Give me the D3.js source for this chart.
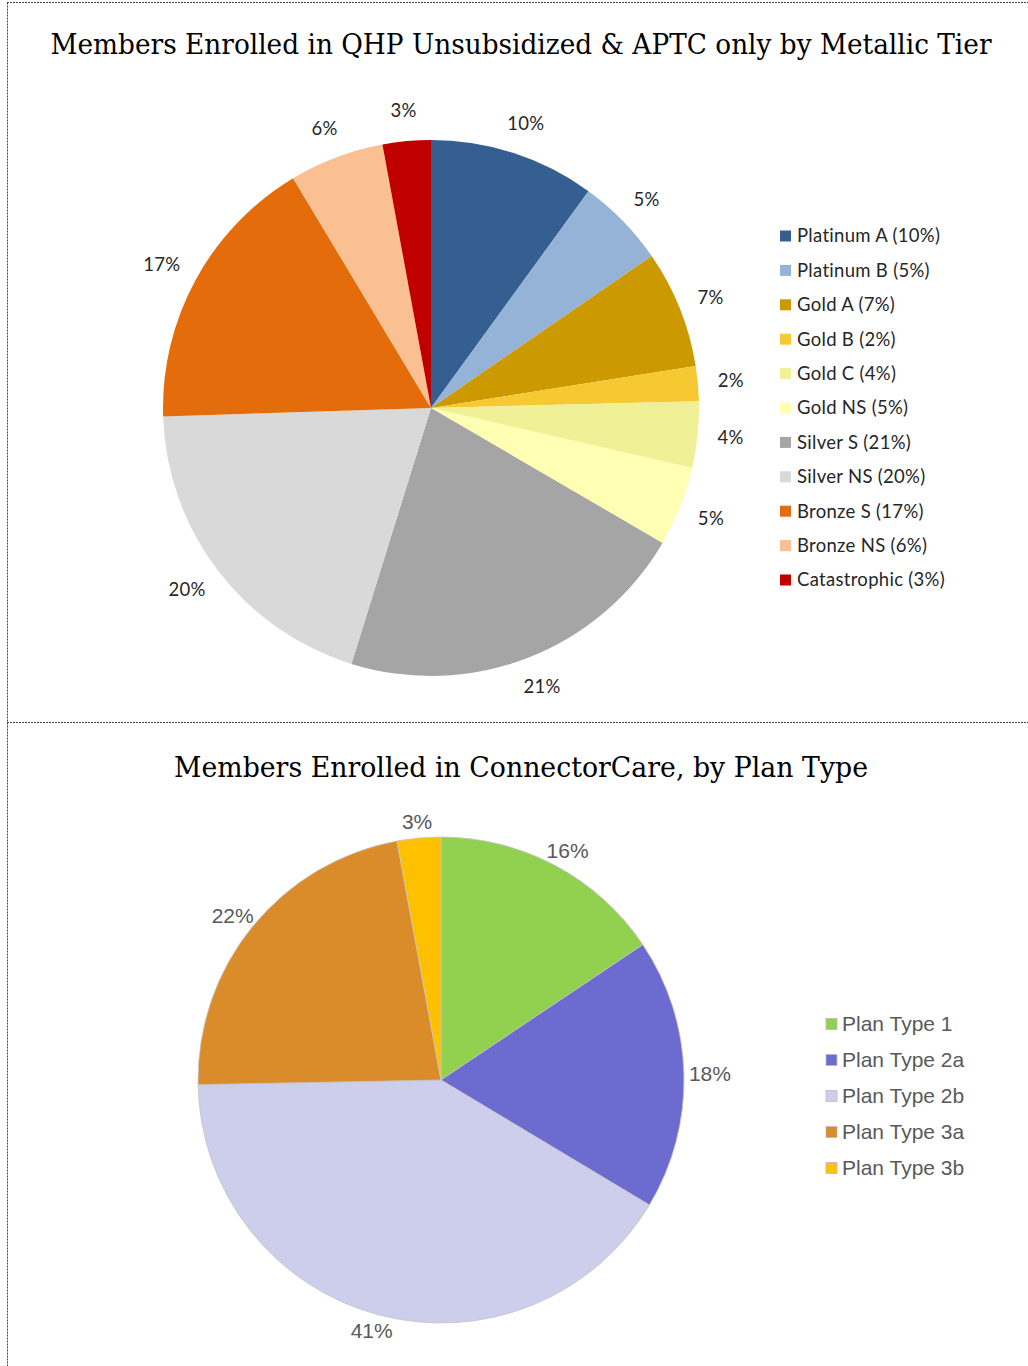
<!DOCTYPE html>
<html>
<head>
<meta charset="utf-8">
<script src="https://cdn.jsdelivr.net/npm/d3@7"></script>
<style>
  body { margin: 0; background: #fff; }
  svg { display: block; }
</style>
</head>
<body>
<svg id="chart" width="1028" height="1366"></svg>
<script>
// top chart - metallic tier
const tierNames = ["Platinum A", "Platinum B", "Gold A", "Gold B", "Gold C", "Gold NS",
  "Silver S", "Silver NS", "Bronze S", "Bronze NS", "Catastrophic"];
const tierValues = [10.0, 5.4, 7.1, 2.1, 4.0, 4.8, 21.4, 19.7, 16.9, 5.7, 2.9];
const tierLabels = ["10%", "5%", "7%", "2%", "4%", "5%", "21%", "20%", "17%", "6%", "3%"];
const tierColors = ["#365f91", "#95b3d7", "#cc9a00", "#f6c933", "#f0f096", "#ffffb4",
  "#a5a5a5", "#d9d9d9", "#e46c0a", "#fac091", "#c00000"];

// bottom chart - connectorcare plan type
const planNames = ["Plan Type 1", "Plan Type 2a", "Plan Type 2b", "Plan Type 3a", "Plan Type 3b"];
const planValues = [15.6, 18.0, 41.1, 22.4, 2.9];
const planLabels = ["16%", "18%", "41%", "22%", "3%"];
const planColors = ["#92d050", "#6b6bd0", "#cdcdec", "#da8c2a", "#ffc000"];

const svg = d3.select("#chart");

// dotted frame lines
const frame = svg.append("g")
  .attr("stroke", "#444")
  .attr("stroke-width", 1)
  .attr("stroke-dasharray", "2 1");
frame.append("line").attr("x1", 7.5).attr("y1", 2.5).attr("x2", 7.5).attr("y2", 1366);
frame.append("line").attr("x1", 7).attr("y1", 2.5).attr("x2", 1028).attr("y2", 2.5);
frame.append("line").attr("x1", 7).attr("y1", 722.5).attr("x2", 1028).attr("y2", 722.5);

const pie = d3.pie().sort(null).value(d => d.value);

function drawPie(opts) {
  const data = opts.names.map((n, i) => ({ name: n, value: opts.values[i], label: opts.labels[i] }));
  const color = d3.scaleOrdinal().domain(opts.names).range(opts.colors);
  const arcs = pie(data);
  const arc = d3.arc().innerRadius(0).outerRadius(opts.r);
  const labelArc = d3.arc().innerRadius(opts.r + opts.gap).outerRadius(opts.r + opts.gap);

  svg.append("text")
    .attr("x", opts.titleX)
    .attr("y", opts.titleY)
    .attr("text-anchor", "middle")
    .attr("font-family", "'DejaVu Serif', serif")
    .attr("font-size", opts.titleSize)
    .attr("textLength", opts.titleLen)
    .attr("lengthAdjust", "spacingAndGlyphs")
    .attr("fill", "#000")
    .text(opts.title);

  const g = svg.append("g").attr("transform", `translate(${opts.cx},${opts.cy})`);
  g.selectAll("path")
    .data(arcs)
    .join("path")
    .attr("d", arc)
    .attr("fill", d => color(d.data.name))
    .attr("stroke", opts.stroke || "none")
    .attr("stroke-width", opts.stroke ? 0.8 : 0);

  // labels sit outside the slice, pushed out by half their box like excel does
  const labels = g.selectAll("text")
    .data(arcs)
    .join("text")
    .attr("text-anchor", "middle")
    .attr("dy", "0.35em")
    .attr("font-family", opts.labelFont)
    .attr("font-size", opts.labelSize)
    .attr("letter-spacing", opts.spacing)
    .attr("fill", opts.labelColor)
    .text(d => d.data.label);
  labels.each(function (d) {
    const box = this.getBBox();
    const a = (d.startAngle + d.endAngle) / 2;
    const [x, y] = labelArc.centroid(d);
    const ox = Math.sin(a) * box.width / 2;
    const oy = -Math.cos(a) * box.height / 2;
    d3.select(this).attr("transform", `translate(${x + ox},${y + oy})`);
  });

  const lg = svg.append("g").attr("transform", `translate(${opts.legendX},${opts.legendY})`);
  const row = lg.selectAll("g")
    .data(data)
    .join("g")
    .attr("transform", (d, i) => `translate(0,${i * opts.legendStep})`);
  row.append("rect")
    .attr("x", 0).attr("y", -5.5)
    .attr("width", 11).attr("height", 11)
    .attr("fill", d => color(d.name))
    .attr("stroke", opts.stroke ? "#bbb" : "none")
    .attr("stroke-width", 0.8);
  row.append("text")
    .attr("x", opts.legendTextX)
    .attr("dy", "0.35em")
    .attr("font-family", opts.labelFont)
    .attr("font-size", opts.legendSize)
    .attr("letter-spacing", opts.spacing)
    .attr("fill", opts.labelColor)
    .text(d => opts.legendText(d));
}

drawPie({
  names: tierNames, values: tierValues, labels: tierLabels, colors: tierColors,
  title: "Members Enrolled in QHP Unsubsidized & APTC only by Metallic Tier",
  titleX: 521, titleY: 54, titleSize: 27, titleLen: 941,
  cx: 431, cy: 408, r: 268, gap: 20,
  labelFont: "Lato, 'Open Sans', sans-serif", labelSize: 18.5, labelColor: "#262626", spacing: 0.3,
  legendX: 780, legendY: 236, legendStep: 34.4, legendTextX: 17, legendSize: 18.5,
  legendText: d => `${d.name} (${d.label})`
});

drawPie({
  names: planNames, values: planValues, labels: planLabels, colors: planColors,
  title: "Members Enrolled in ConnectorCare, by Plan Type",
  titleX: 521, titleY: 777, titleSize: 27, titleLen: 694,
  cx: 441, cy: 1080, r: 243, gap: 5, stroke: "#c4c4c4",
  labelFont: "'Liberation Sans', Arial, sans-serif", labelSize: 21, labelColor: "#595959", spacing: 0,
  legendX: 826, legendY: 1024, legendStep: 36, legendTextX: 16, legendSize: 21,
  legendText: d => d.name
});
</script>
</body>
</html>
